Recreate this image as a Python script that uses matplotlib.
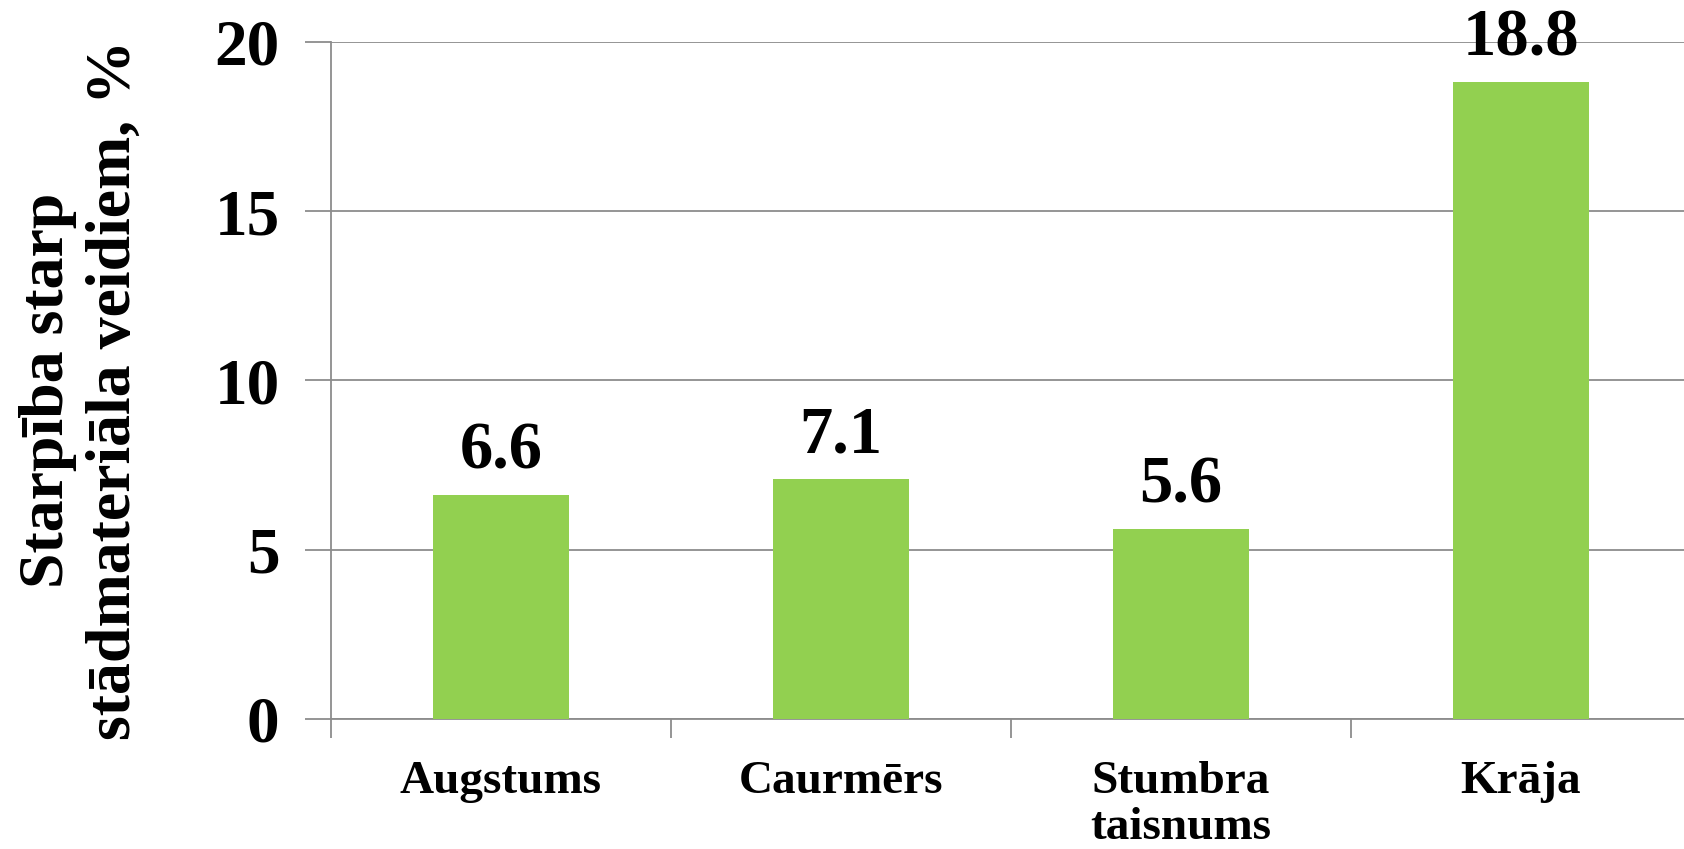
import matplotlib.pyplot as plt

# dati
kategorijas = ['Augstums', 'Caurmērs', 'Stumbra\ntaisnums', 'Krāja']
vertibas = [6.6, 7.1, 5.6, 18.8]
y_ticks = [0, 5, 10, 15, 20]
y_label = 'Starpība starp\nstādmateriāla veidiem, %'

plt.rcParams['font.family'] = ['Liberation Serif', 'DejaVu Serif']
plt.rcParams['font.weight'] = 'bold'

fig = plt.figure(figsize=(16.84, 8.49), dpi=100)
ax = fig.add_axes([331 / 1684, 1 - 719 / 849, 1360 / 1684, (719 - 41.7) / 849])

x = range(len(kategorijas))
bars = ax.bar(x, vertibas, width=0.4, color='#92D050', zorder=3)

# vērtības virs stabiņiem
for xi, v in zip(x, vertibas):
    ax.annotate(f'{v:.1f}', (xi, v), xytext=(0, 9), textcoords='offset points',
                ha='center', va='bottom', fontsize=48, fontweight='bold')

ax.set_xlim(-0.5, len(kategorijas) - 0.5)
ax.set_ylim(0, 20)
ax.set_yticks(y_ticks)
ax.set_yticklabels([str(t) for t in y_ticks], fontsize=47, fontweight='bold')
ax.yaxis.grid(True, color='#8c8c8c', linewidth=1.3, zorder=0)

ax.set_xticks(list(x))
ax.set_xticklabels(kategorijas, fontsize=34, fontweight='bold', linespacing=1.15)
ax.set_xticks([i + 0.5 for i in range(-1, len(kategorijas))], minor=True)
ax.tick_params(axis='x', which='major', length=0, pad=30)
ax.tick_params(axis='x', which='minor', length=14, color='#8c8c8c', width=1.3)
ax.tick_params(axis='y', length=19, color='#8c8c8c', width=1.3, pad=18)

for s in ['top', 'right']:
    ax.spines[s].set_visible(False)
for s in ['left', 'bottom']:
    ax.spines[s].set_color('#8c8c8c')
    ax.spines[s].set_linewidth(1.3)

ax.set_ylabel(y_label, fontsize=46, fontweight='bold', linespacing=1.2)
ax.yaxis.set_label_coords(-0.138, 0.486)

fig.savefig('out.png', dpi=100)
